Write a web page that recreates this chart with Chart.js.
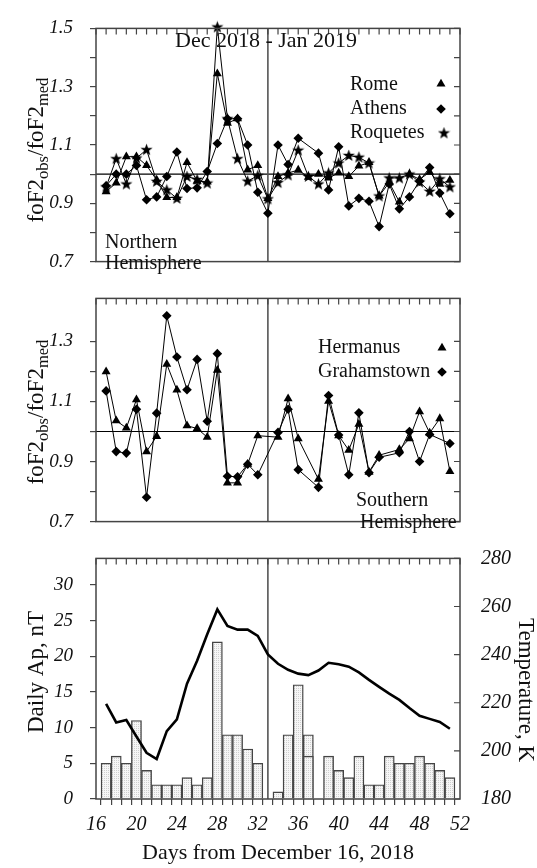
<!DOCTYPE html>
<html>
<head>
<meta charset="utf-8">
<script src="https://cdn.jsdelivr.net/npm/chart.js@4.4.0/dist/chart.umd.min.js"></script>
<style>
  html, body { margin: 0; padding: 0; background: #fff; }
  #wrap { position: relative; width: 537px; height: 868px; overflow: hidden; }
  canvas { position: absolute; left: 0; }
</style>
</head>
<body>
<div id="wrap">
  <canvas id="north" width="537" height="290" style="top:0"></canvas>
  <canvas id="south" width="537" height="280" style="top:270px"></canvas>
  <canvas id="apTemp" width="537" height="338" style="top:530px"></canvas>
</div>
<script>
// days from December 16, 2018
const days = [17, 18, 19, 20, 21, 22, 23, 24, 25, 26, 27, 28, 29, 30, 31, 32, 33, 34,
              35, 36, 37, 38, 39, 40, 41, 42, 43, 44, 45, 46, 47, 48, 49, 50, 51];

// foF2obs/foF2med, northern stations
const rome = [0.94, 0.97, 1.06, 1.06, 1.03, 0.98, 0.92, 0.92, 1.04, 0.976, 0.973, 1.345, 1.175, 1.19, 1.015, 1.03, 0.917, 0.992,
              1.004, 1.014, 0.99, 1.0, 0.987, 1.004, 0.992, 1.028, 1.04, 0.925, 0.971, 0.905, 1.0, 0.982, 1.007, 0.966, 0.979];
const athens = [0.96, 1.0, 1.0, 1.03, 0.912, 0.922, 0.992, 1.076, 0.951, 0.953, 1.009, 1.105, 1.19, 1.19, 1.1, 0.938, 0.866, 1.1,
                1.033, 1.123, null, 1.072, 0.946, 1.094, 0.891, 0.917, 0.907, 0.82, 0.966, 0.881, 0.922, 0.976, 1.023, 0.935, 0.864];
const roquetes = [0.956, 1.053, 0.966, 1.055, 1.084, 0.975, 0.946, 0.917, 0.992, 0.982, 0.969, 1.505, 1.19, 1.053, 0.976, 0.995, 0.915, 0.971,
                  0.997, 1.082, 0.992, 0.966, 1.004, 1.038, 1.064, 1.058, 1.038, 0.925, 0.987, 0.987, 1.0, 0.973, 0.941, 0.984, 0.956];

// foF2obs/foF2med, southern stations
const hermanus = [1.199, 1.036, 1.012, 1.106, 0.933, 0.984, 1.224, 1.138, 1.019, 1.01, 0.981, 1.204, 0.829, 0.829, 0.891, 0.986, null, 0.981,
                  1.109, 0.976, null, 0.841, 1.101, 0.986, 0.938, 1.024, 0.865, 0.921, null, 0.94, 0.976, 1.066, 0.995, 1.043, 0.867];
const grahamstown = [1.135, 0.933, 0.928, 1.074, 0.781, 1.061, 1.385, 1.248, 1.139, 1.24, 1.034, 1.259, 0.851, 0.849, 0.891, 0.856, null, 0.997,
                     1.074, 0.873, null, 0.814, 1.12, 0.988, 0.856, 1.062, 0.863, 0.914, null, 0.929, 1.0, 0.9, 0.99, null, 0.96];

// daily Ap (nT) and temperature (K)
const apIndex = [5, 6, 5, 11, 4, 2, 2, 2, 3, 2, 3, 22, 9, 9, 7, 5, null, 1,
                 9, 16, 9, null, 6, 4, 3, 6, 2, 2, 6, 5, 5, 6, 5, 4, 3];
const apInnerDays = [37];
const apInner = [6];
const temperature = [219.5, 211.8, 212.8, 206, 199.2, 196.6, 208.2, 213.1, 227.9, 237.5, 248.5, 258.8, 251.9, 250.4, 250.4, 247.8, 240.1, 236.2,
                     233.7, 232.1, 231.5, 233.4, 236.6, 236, 235, 232.6, 229.5, 226.6, 223.8, 221.2, 217.8, 214.6, 213.3, 212, 209.2];

const dayMin = 16, dayMax = 52;
const eventDay = 33;

const FONT = '"Liberation Serif", "Times New Roman", serif';
const INK = '#111';
const FRAME = '#444';

// filled star marker
const starImg = document.createElement('canvas');
starImg.width = 13; starImg.height = 13;
(function () {
    const c = starImg.getContext('2d');
    c.fillStyle = '#000';
    c.beginPath();
    for (let i = 0; i < 10; i++) {
        const r = i % 2 ? 2.6 : 6.4;
        const a = -Math.PI / 2 + i * Math.PI / 5;
        const px = 6.5 + r * Math.cos(a), py = 6.8 + r * Math.sin(a);
        i ? c.lineTo(px, py) : c.moveTo(px, py);
    }
    c.closePath();
    c.fill();
})();

// stippled bar fill
const patCanvas = document.createElement('canvas');
patCanvas.width = 2; patCanvas.height = 2;
(function () {
    const c = patCanvas.getContext('2d');
    c.fillStyle = '#f6f6f6'; c.fillRect(0, 0, 2, 2);
    c.fillStyle = '#cfcfcf'; c.fillRect(0, 0, 1, 1);
})();
const barFill = patCanvas.getContext('2d').createPattern(patCanvas, 'repeat');

const pts = arr => days.map((d, i) => ({ x: d, y: arr[i] }));

function drawMarker(ctx, style, x, y) {
    ctx.fillStyle = '#000';
    ctx.beginPath();
    if (style === 'triangle') {
        const r = 5.2;
        ctx.moveTo(x, y - r);
        ctx.lineTo(x + r * 0.866, y + r * 0.5);
        ctx.lineTo(x - r * 0.866, y + r * 0.5);
        ctx.closePath();
        ctx.fill();
    } else if (style === 'diamond') {
        const r = 4.8;
        ctx.moveTo(x, y - r); ctx.lineTo(x + r, y); ctx.lineTo(x, y + r); ctx.lineTo(x - r, y);
        ctx.closePath();
        ctx.fill();
    } else {
        ctx.drawImage(starImg, x - 6.5, y - 6.5);
    }
}

function drawTitle(ctx, parts, cx, cy, angle, size) {
    ctx.save();
    ctx.translate(cx, cy);
    ctx.rotate(angle);
    ctx.fillStyle = INK;
    ctx.textBaseline = 'alphabetic';
    ctx.textAlign = 'left';
    let w = 0;
    const sized = parts.map(p => {
        const fs = p.sub ? size * 0.72 : size;
        ctx.font = fs + 'px ' + FONT;
        const pw = ctx.measureText(p.t).width;
        w += pw;
        return { t: p.t, fs: fs, w: pw, sub: p.sub };
    });
    let x = -w / 2;
    sized.forEach(p => {
        ctx.font = p.fs + 'px ' + FONT;
        ctx.fillText(p.t, x, p.sub ? size * 0.55 : size * 0.33);
        x += p.w;
    });
    ctx.restore();
}

// frame, reference lines, inward ticks and annotations
const framePlugin = {
    id: 'frame',
    beforeDatasetsDraw(chart, args, opts) {
        const { ctx, chartArea: a, scales } = chart;
        ctx.save();
        if (opts.refY != null) {
            const y = scales.y.getPixelForValue(opts.refY);
            ctx.strokeStyle = '#000';
            ctx.lineWidth = 1.2;
            ctx.beginPath(); ctx.moveTo(a.left, y); ctx.lineTo(a.right, y); ctx.stroke();
        }
        if (opts.refX != null) {
            const x = scales.x.getPixelForValue(opts.refX);
            ctx.strokeStyle = '#555';
            ctx.lineWidth = 1.6;
            ctx.beginPath(); ctx.moveTo(x, a.top); ctx.lineTo(x, a.bottom); ctx.stroke();
        }
        ctx.restore();
    },
    afterDatasetsDraw(chart, args, opts) {
        const { ctx, chartArea: a, scales } = chart;
        ctx.save();
        ctx.strokeStyle = FRAME;
        ctx.lineWidth = 1.5;
        ctx.strokeRect(a.left, a.top, a.right - a.left, a.bottom - a.top);
        ctx.lineWidth = 1.2;
        ctx.beginPath();
        const xs = scales.x;
        for (let v = Math.ceil(xs.min); v <= xs.max; v++) {
            const px = xs.getPixelForValue(v);
            ctx.moveTo(px, a.top); ctx.lineTo(px, a.top + 6);
        }
        const rs = scales[opts.rightScale];
        rs.ticks.forEach(t => {
            const py = rs.getPixelForValue(t.value);
            ctx.moveTo(a.right - 6, py); ctx.lineTo(a.right, py);
        });
        ctx.stroke();

        const top = chart.canvas.offsetTop;
        ctx.fillStyle = INK;
        ctx.textBaseline = 'alphabetic';
        (opts.texts || []).forEach(t => {
            ctx.font = t.size + 'px ' + FONT;
            ctx.textAlign = 'left';
            ctx.fillText(t.text, t.x, t.y - top);
        });
        (opts.markers || []).forEach(m => drawMarker(ctx, m.style, m.x, m.y - top));
        (opts.titles || []).forEach(t => drawTitle(ctx, t.parts, t.x, t.y - top, t.angle, t.size));
        ctx.restore();
    }
};

const ratioTitle = [{ t: 'foF2' }, { t: 'obs', sub: true }, { t: '/foF2' }, { t: 'med', sub: true }];

function leftAxis(min, max, step, labelEvery) {
    return {
        type: 'linear', position: 'left', min: min, max: max,
        afterFit: s => { s.width = 96; },
        afterBuildTicks: s => {
            s.ticks = s.ticks.filter(t => Math.abs(t.value / step - Math.round(t.value / step)) < 1e-6);
        },
        ticks: {
            stepSize: step, padding: 17, color: INK,
            font: { family: FONT, size: 19, style: 'italic' },
            callback: v => Math.round(v / step) % labelEvery === labelEvery - 1 || labelEvery === 1 ? v.toFixed(step < 1 ? 1 : 0) : ''
        },
        grid: { drawOnChartArea: false, tickLength: 6, color: FRAME, lineWidth: 1.2 },
        border: { display: false }
    };
}

const hiddenX = { type: 'linear', min: dayMin, max: dayMax, display: false };

function stationSet(label, arr, style) {
    return {
        label: label, data: pts(arr), showLine: true, spanGaps: true, clip: false,
        borderColor: '#000', borderWidth: 1, backgroundColor: '#000',
        pointStyle: style, pointRadius: style === 'rectRot' ? 4.8 : 5.2, pointBorderWidth: 0,
        pointBackgroundColor: '#000'
    };
}

const common = {
    responsive: false, animation: false, events: [],
    plugins: { legend: { display: false }, tooltip: { enabled: false } }
};

// northern hemisphere panel
new Chart(document.getElementById('north'), {
    type: 'line',
    data: {
        datasets: [
            stationSet('Rome', rome, 'triangle'),
            stationSet('Athens', athens, 'rectRot'),
            stationSet('Roquetes', roquetes, starImg)
        ]
    },
    options: Object.assign({}, common, {
        layout: { padding: { top: 18, bottom: 12, left: 0, right: 77 }, autoPadding: false },
        scales: { x: hiddenX, y: leftAxis(0.7, 1.5, 0.1, 2) },
        plugins: Object.assign({}, common.plugins, {
            frame: {
                refY: 1.0, refX: eventDay, rightScale: 'y',
                texts: [
                    { text: 'Dec 2018 - Jan 2019', x: 175, y: 47, size: 22 },
                    { text: 'Rome', x: 350, y: 90, size: 20 },
                    { text: 'Athens', x: 350, y: 114, size: 20 },
                    { text: 'Roquetes', x: 350, y: 138, size: 20 },
                    { text: 'Northern', x: 105, y: 248, size: 20 },
                    { text: 'Hemisphere', x: 105, y: 269, size: 20 }
                ],
                markers: [
                    { style: 'triangle', x: 441, y: 84 },
                    { style: 'diamond', x: 441, y: 109 },
                    { style: 'star', x: 444, y: 133 }
                ],
                titles: [{ parts: ratioTitle, x: 35, y: 150, angle: -Math.PI / 2, size: 23 }]
            }
        })
    }),
    plugins: [framePlugin]
});

// southern hemisphere panel
new Chart(document.getElementById('south'), {
    type: 'line',
    data: {
        datasets: [
            stationSet('Hermanus', hermanus, 'triangle'),
            stationSet('Grahamstown', grahamstown, 'rectRot')
        ]
    },
    options: Object.assign({}, common, {
        layout: { padding: { top: 10, bottom: 11, left: 0, right: 77 }, autoPadding: false },
        scales: { x: hiddenX, y: leftAxis(0.7, 1.443, 0.1, 2) },
        plugins: Object.assign({}, common.plugins, {
            frame: {
                refY: 1.0, refX: eventDay, rightScale: 'y',
                texts: [
                    { text: 'Hermanus', x: 318, y: 353, size: 20 },
                    { text: 'Grahamstown', x: 318, y: 377, size: 20 },
                    { text: 'Southern', x: 356, y: 506, size: 20 },
                    { text: 'Hemisphere', x: 360, y: 528, size: 20 }
                ],
                markers: [
                    { style: 'triangle', x: 442, y: 348 },
                    { style: 'diamond', x: 442, y: 372 }
                ],
                titles: [{ parts: ratioTitle, x: 35, y: 412, angle: -Math.PI / 2, size: 23 }]
            }
        })
    }),
    plugins: [framePlugin]
});

// Ap index and temperature panel
new Chart(document.getElementById('apTemp'), {
    type: 'bar',
    data: {
        datasets: [
            {
                type: 'line', label: 'Temperature', yAxisID: 'y1', order: 0,
                data: pts(temperature), borderColor: '#000', borderWidth: 2.6,
                pointRadius: 0, tension: 0, clip: false
            },
            {
                label: 'Ap inner', yAxisID: 'y', order: 1, grouped: false,
                data: apInnerDays.map((d, i) => ({ x: d, y: apInner[i] })),
                backgroundColor: barFill, borderColor: FRAME, borderWidth: 1.4,
                barPercentage: 1, categoryPercentage: 1
            },
            {
                label: 'Ap', yAxisID: 'y', order: 2, grouped: false,
                data: pts(apIndex).filter(p => p.y !== null),
                backgroundColor: barFill, borderColor: FRAME, borderWidth: 1.4,
                barPercentage: 1, categoryPercentage: 1
            }
        ]
    },
    options: Object.assign({}, common, {
        layout: { padding: { top: 10, bottom: 0, left: 0, right: 0 }, autoPadding: false },
        scales: {
            x: {
                type: 'linear', min: dayMin, max: dayMax, offset: false,
                afterFit: s => { s.height = 69; },
                ticks: {
                    stepSize: 1, autoSkip: false, maxRotation: 0, padding: 8, color: INK,
                    font: { family: FONT, size: 20, style: 'italic' },
                    callback: v => (v - dayMin) % 4 === 0 ? v : ''
                },
                grid: { drawOnChartArea: false, tickLength: 6, color: FRAME, lineWidth: 1.2 },
                border: { display: false },
                title: {
                    display: true, text: 'Days from December 16, 2018', color: INK,
                    font: { family: FONT, size: 22 }, padding: { top: 0, bottom: 2 }
                }
            },
            y: leftAxis(0, 33.7, 5, 1),
            y1: {
                type: 'linear', position: 'right', min: 180, max: 280,
                afterFit: s => { s.width = 77; },
                ticks: {
                    stepSize: 10, padding: 13, color: INK,
                    font: { family: FONT, size: 20, style: 'italic' },
                    callback: v => v % 20 === 0 ? v : ''
                },
                grid: { display: false },
                border: { display: false }
            }
        },
        plugins: Object.assign({}, common.plugins, {
            frame: {
                refX: eventDay, rightScale: 'y1',
                titles: [
                    { parts: [{ t: 'Daily Ap, nT' }], x: 35, y: 672, angle: -Math.PI / 2, size: 23 },
                    { parts: [{ t: 'Temperature, K' }], x: 527, y: 690, angle: Math.PI / 2, size: 23 }
                ]
            }
        })
    }),
    plugins: [framePlugin]
});
</script>
</body>
</html>
